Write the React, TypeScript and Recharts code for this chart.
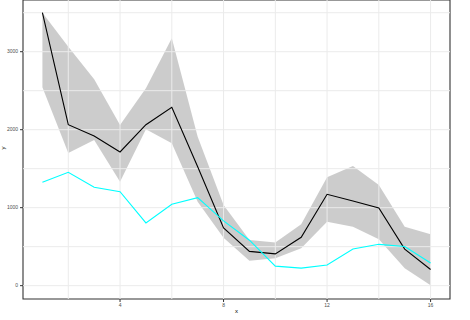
import React from 'react';
import { ComposedChart, Line, Area, XAxis, YAxis, ReferenceLine, ReferenceArea, Label } from 'recharts';

const xs = [1, 2, 3, 4, 5, 6, 7, 8, 9, 10, 11, 12, 13, 14, 15, 16];
const blackY = [3500, 2064, 1919, 1714, 2064, 2287, 1526, 740, 440, 408, 620, 1172, 1086, 995, 468, 207];
const cyanY = [1326, 1454, 1262, 1205, 804, 1043, 1128, 830, 583, 250, 225, 265, 470, 530, 502, 290];
const ribbonUpper = [3500, 3064, 2646, 2060, 2531, 3172, 1910, 1035, 586, 552, 787, 1390, 1535, 1291, 756, 659];
const ribbonLower = [2544, 1700, 1868, 1333, 2005, 1826, 1077, 615, 321, 351, 479, 820, 756, 595, 223, 5];

const xTicks = [4, 8, 12, 16];
const yTicks = [0, 1000, 2000, 3000];
const xGrid = [2, 4, 6, 8, 10, 12, 14, 16];
const yGrid = [0, 500, 1000, 1500, 2000, 2500, 3000, 3500];

const X_DOMAIN: [number, number] = [0.25, 16.75];
const Y_DOMAIN: [number, number] = [-171, 3663];

const data = xs.map((x, i) => ({
  x,
  black: blackY[i],
  cyan: cyanY[i],
  band: [ribbonLower[i], ribbonUpper[i]],
}));

const FONT = 'Liberation Sans, Arial, sans-serif';

export default function App() {
  return (
    <div style={{ position: 'absolute', left: 0, top: 0, width: 470, height: 320, background: '#fff' }}>
      <ComposedChart width={470} height={320} data={data} margin={{ top: 0, right: 20, bottom: 0, left: 0 }}>
        {xGrid.map((v) => (
          <ReferenceLine key={'gx' + v} x={v} stroke="#ebebeb" strokeWidth={1} />
        ))}
        {yGrid.map((v) => (
          <ReferenceLine key={'gy' + v} y={v} stroke="#ebebeb" strokeWidth={1} />
        ))}
        <XAxis
          dataKey="x"
          type="number"
          domain={X_DOMAIN}
          ticks={xTicks}
          allowDataOverflow
          axisLine={false}
          tickSize={3}
          tickMargin={1}
          tick={{ fontSize: 5, fill: '#4d4d4d', fontFamily: FONT }}
          tickLine={{ stroke: '#333333' }}
          height={21}
        >
          <Label value="x" position="insideBottom" offset={7} style={{ fontSize: 6, fill: '#000', fontFamily: FONT }} />
        </XAxis>
        <YAxis
          type="number"
          domain={Y_DOMAIN}
          ticks={yTicks}
          allowDataOverflow
          axisLine={false}
          tickSize={3}
          tickMargin={2}
          tick={{ fontSize: 5, fill: '#4d4d4d', fontFamily: FONT }}
          tickLine={{ stroke: '#333333' }}
          width={23}
        >
          <Label value="y" angle={-90} position="insideLeft" offset={3} style={{ fontSize: 6, fill: '#000', fontFamily: FONT }} />
        </YAxis>
        <Area
          dataKey="band"
          type="linear"
          stroke="none"
          fill="#999999"
          fillOpacity={0.5}
          isAnimationActive={false}
          dot={false}
          activeDot={false}
        />
        <Line dataKey="black" type="linear" stroke="#000000" strokeWidth={1.1} dot={false} activeDot={false} isAnimationActive={false} />
        <Line dataKey="cyan" type="linear" stroke="#00ffff" strokeWidth={1.1} dot={false} activeDot={false} isAnimationActive={false} />
        <ReferenceArea
          x1={X_DOMAIN[0]}
          x2={X_DOMAIN[1]}
          y1={Y_DOMAIN[0]}
          y2={Y_DOMAIN[1]}
          fill="none"
          fillOpacity={0}
          stroke="#333333"
          strokeWidth={1.1}
          ifOverflow="visible"
        />
      </ComposedChart>
    </div>
  );
}
